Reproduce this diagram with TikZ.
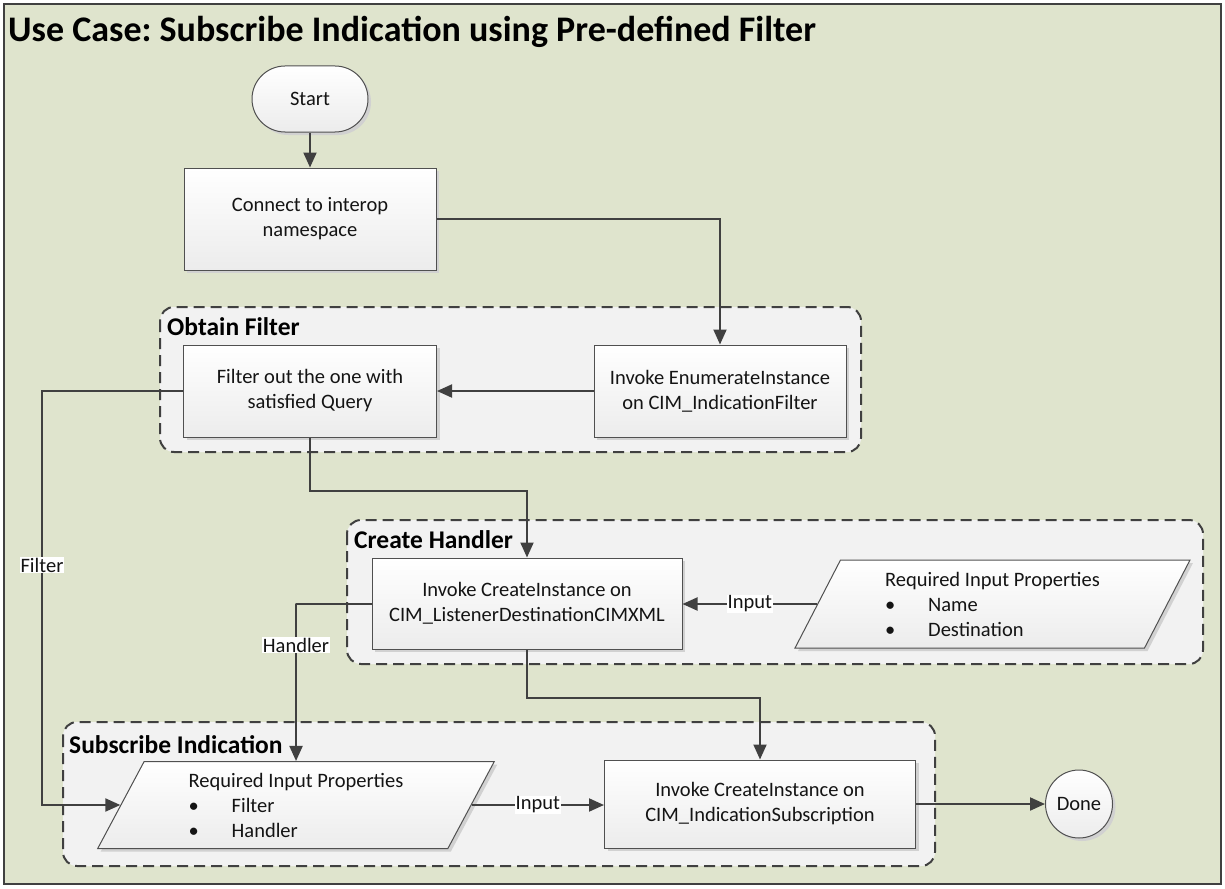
\documentclass[tikz,border=0pt]{standalone}
\usepackage{fontspec}
\setmainfont{Carlito}
\frenchspacing
\usetikzlibrary{arrows.meta,shapes.geometric,shadows,calc}
\definecolor{bgc}{RGB}{223,228,205}
\definecolor{grpfill}{RGB}{242,242,242}
\definecolor{edgec}{RGB}{64,64,64}
\definecolor{boxline}{RGB}{80,80,80}
\definecolor{boxbot}{RGB}{236,236,236}
\definecolor{txt}{RGB}{20,20,20}

\begin{document}
\begin{tikzpicture}[x=1pt,y=-1pt,
  body/.style={font=\fontsize{20.5}{25}\selectfont, text=txt},
  proc/.style={body, draw=boxline, line width=1pt, top color=white, bottom color=boxbot,
    align=center, inner sep=0pt,
    drop shadow={shadow xshift=3pt,shadow yshift=-3pt,fill=black!18,opacity=1}},
  datain/.style={proc, shape=trapezium, trapezium stretches=true, align=left},
  group/.style={draw=edgec, fill=grpfill, line width=2pt, dash pattern=on 11pt off 6pt, rounded corners=14pt},
  glabel/.style={font=\bfseries\fontsize{25.5}{30}\selectfont, anchor=west, inner sep=0pt, text=black},
  arr/.style={draw=edgec, line width=2pt, -{Triangle[length=15pt,width=13pt]}},
  elabel/.style={body, fill=white, inner sep=1pt},
]
\newcommand{\bul}[1]{\makebox[43pt][l]{\textbullet}#1}

% page and frame
\path[use as bounding box, fill=white] (0,0) rectangle (1225,888);
\draw[line width=2pt, draw=edgec, fill=bgc] (4,4) rectangle (1221,884);
\node[font=\bfseries\fontsize{36}{40}\selectfont, anchor=west, inner sep=0pt] (title) at (8,32)
  {Use Case: Subscribe Indication using Pre-defined Filter};

% swimlane groups
\draw[group] (160,307) rectangle (861,452);
\node[glabel] (gobtain) at (167,327) {Obtain Filter};
\draw[group] (347,520) rectangle (1203,664);
\node[glabel] (ghandler) at (354,540) {Create Handler};
\draw[group] (63,722) rectangle (935,866);
\node[glabel] (gsub) at (69,745) {Subscribe Indication};

% steps
\node[proc, rounded corners=33pt, minimum width=116pt, minimum height=66pt] (start) at (310,99) {Start};
\node[proc, minimum width=252pt, minimum height=102pt] (connect) at (310,219) {Connect to interop\\namespace};
\node[proc, minimum width=253pt, minimum height=92pt] (filt) at (310,391) {Filter out the one with\\satisfied Query};
\node[proc, minimum width=252pt, minimum height=92pt] (enum) at (720,391) {Invoke EnumerateInstance\\on CIM\_IndicationFilter};
\node[proc, minimum width=310pt, minimum height=91pt] (create) at (527,603.5) {Invoke CreateInstance on\\CIM\_ListenerDestinationCIMXML};
\node[datain, trapezium left angle=63.5, trapezium right angle=116.5, minimum width=395pt, minimum height=88pt] (hparam) at (992.5,604)
  {Required Input Properties\\\bul{Name}\\\bul{Destination}};
\node[datain, trapezium left angle=63, trapezium right angle=117, minimum width=398pt, minimum height=87pt] (sparam) at (296,805)
  {Required Input Properties\\\bul{Filter}\\\bul{Handler}};
\node[proc, minimum width=311pt, minimum height=88pt] (subs) at (760,804) {Invoke CreateInstance on\\CIM\_IndicationSubscription};
\node[proc, shape=ellipse, inner sep=0pt, minimum width=67pt, minimum height=68pt] (done) at (1079,804) {Done};

% connectors
\coordinate (lane) at (42,0);
\draw[arr] (start) -- (connect);
\draw[arr] (connect.east) -| (enum.north);
\draw[arr] (enum) -- (filt);
\draw[arr] (filt.west) -- (filt.west -| lane) |- (sparam.west);
\node[elabel] (lfilter) at (42,565) {Filter};
\draw[arr] (filt.south) -- ++(0,53) -| (create.north);
\draw[arr] (hparam.west) -- node[elabel] (lin1) {Input} (create.east |- hparam.west);
\draw[arr] (create.west) -- ++(-76,0) -| (sparam.north);
\node[elabel] (lhandler) at (296,645) {Handler};
\draw[arr] (create.south) -- ++(0,48) -| (subs.north);
\draw[arr] (sparam.east) -- node[elabel] (lin2) {Input} (subs.west |- sparam.east);
\draw[arr] (subs.east) -- (done.west);
\end{tikzpicture}
\end{document}
